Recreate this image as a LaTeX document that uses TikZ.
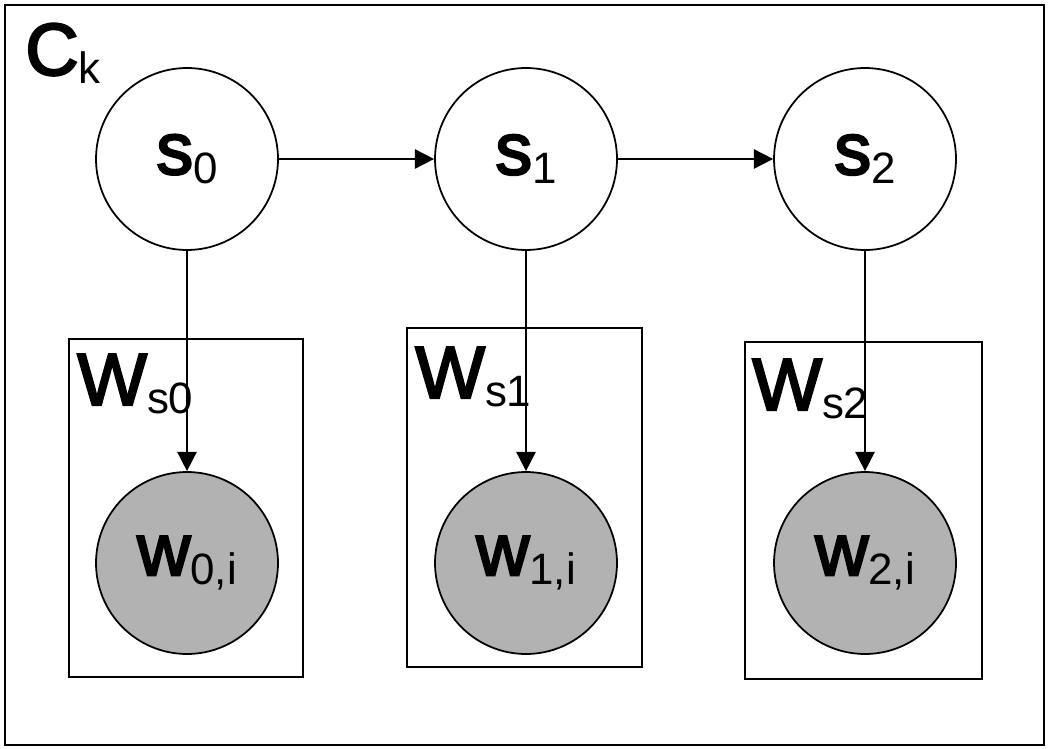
\documentclass[tikz,border=0pt]{standalone}
\usepackage{fontspec}
\setmainfont{Liberation Sans}
\newfontfamily\medfont[FakeBold=3]{Liberation Sans}
\usetikzlibrary{arrows.meta}

\newcommand{\lbl}[2]{{\fontsize{42}{42}\medfont #1\raisebox{-0.12em}{\fontsize{25}{25}\rmfamily #2}}}

\begin{document}
\begin{tikzpicture}[x=0.02cm, y=-0.02cm,
  state/.style={circle, draw, line width=1pt, minimum size=3.64cm, inner sep=0pt},
  word/.style={state, fill=gray!60},
  plate/.style={draw, line width=1.1pt}]
\useasboundingbox (0,0) rectangle (1050,749);

%Outer plate
\draw[plate] (5,5) rectangle (1044,745);
\node[anchor=base west, inner sep=0pt] (ck) at (25,75) {\lbl{C}{k}};

%Word plates
\draw[plate] (69,339) rectangle (303,677);
\node[anchor=base west, inner sep=0pt] (ws0) at (77,405) {\lbl{W}{s0}};
\draw[plate] (407,328) rectangle (642,667);
\node[anchor=base west, inner sep=0pt] (ws1) at (415,398) {\lbl{W}{s1}};
\draw[plate] (745,342) rectangle (982,679);
\node[anchor=base west, inner sep=0pt] (ws2) at (752,410) {\lbl{W}{s2}};

%States
\node[state] (s0) at (187,159) {\lbl{s}{0}};
\node[state] (s1) at (526,159) {\lbl{s}{1}};
\node[state] (s2) at (865,159) {\lbl{s}{2}};

%Words
\node[word] (w0) at (187,563) {\lbl{w}{0,i}};
\node[word] (w1) at (526,563) {\lbl{w}{1,i}};
\node[word] (w2) at (865,563) {\lbl{w}{2,i}};

\foreach \from/\to in {s0/s1, s1/s2, s0/w0, s1/w1, s2/w2}
\draw [-{Triangle[length=11pt,width=11pt]}, line width=1pt] (\from) -- (\to);

\end{tikzpicture}
\end{document}
